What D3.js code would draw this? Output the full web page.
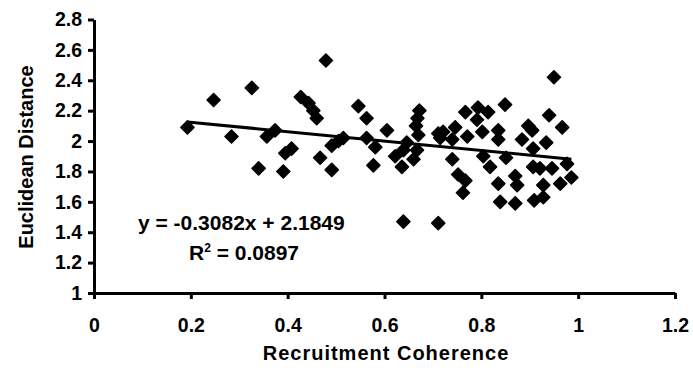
<!DOCTYPE html>
<html>
<head>
<meta charset="utf-8">
<script src="https://cdn.jsdelivr.net/npm/d3@7/dist/d3.min.js"></script>
<style>
  body { margin: 0; background: #fff; }
  text { font-family: "Liberation Sans", Arial, Helvetica, sans-serif; font-weight: bold; fill: #000; }
</style>
</head>
<body>
<svg id="chart" width="693" height="379"></svg>
<script>
// Recruitment coherence (x) against Euclidean distance (y), one entry per observation
const coherence = [
  0.193, 0.247, 0.284, 0.326, 0.340, 0.357, 0.374, 0.391, 0.395, 0.408,
  0.427, 0.443, 0.453, 0.460, 0.479, 0.467, 0.491, 0.491, 0.505, 0.515,
  0.546, 0.563, 0.563, 0.581, 0.577, 0.605, 0.622, 0.639, 0.646, 0.636,
  0.639, 0.660, 0.667, 0.672, 0.668, 0.665, 0.670, 0.711, 0.721, 0.715,
  0.711, 0.746, 0.740, 0.740, 0.767, 0.771, 0.793, 0.791, 0.814, 0.802,
  0.835, 0.849, 0.835, 0.804, 0.818, 0.752, 0.767, 0.762, 0.835, 0.839,
  0.950, 0.940, 0.897, 0.905, 0.967, 0.884, 0.934, 0.907, 0.851, 0.977,
  0.907, 0.921, 0.946, 0.870, 0.986, 0.963, 0.928, 0.874, 0.928, 0.909,
  0.870
];
const distance = [
  2.09, 2.27, 2.03, 2.35, 1.82, 2.03, 2.07, 1.80, 1.92, 1.95,
  2.29, 2.25, 2.20, 2.15, 2.53, 1.89, 1.81, 1.97, 2.00, 2.02,
  2.23, 2.15, 2.02, 1.96, 1.84, 2.07, 1.90, 1.94, 1.99, 1.83,
  1.47, 1.88, 1.94, 2.20, 2.15, 2.10, 2.04, 2.05, 2.06, 2.02,
  1.46, 2.09, 2.01, 1.88, 2.19, 2.03, 2.22, 2.14, 2.19, 2.06,
  2.07, 2.24, 2.01, 1.90, 1.83, 1.78, 1.74, 1.66, 1.72, 1.60,
  2.42, 2.17, 2.10, 2.07, 2.09, 2.01, 1.99, 1.95, 1.89, 1.85,
  1.83, 1.82, 1.82, 1.77, 1.76, 1.72, 1.71, 1.71, 1.63, 1.61,
  1.59
];

const xTicks = [0, 0.2, 0.4, 0.6, 0.8, 1, 1.2];
const yTicks = [1, 1.2, 1.4, 1.6, 1.8, 2, 2.2, 2.4, 2.6, 2.8];

// Linear trendline as reported on the chart
const slope = -0.3082;
const intercept = 2.1849;
const rSquared = 0.0897;

const xTitle = "Recruitment Coherence";
const yTitle = "Euclidean Distance";

const svg = d3.select("#chart");

const x = d3.scaleLinear().domain([0, 1.2]).range([94, 675]);
const y = d3.scaleLinear().domain([1, 2.8]).range([293, 19.5]);

const fmt = d => String(+d.toFixed(1));

// Axes
const xAxis = svg.append("g")
  .attr("transform", `translate(0,${y(1)})`)
  .call(d3.axisBottom(x).tickValues(xTicks).tickFormat(fmt).tickSize(6).tickSizeOuter(0).tickPadding(19));

const yAxis = svg.append("g")
  .attr("transform", `translate(${x(0)},0)`)
  .call(d3.axisLeft(y).tickValues(yTicks).tickFormat(fmt).tickSize(6).tickSizeOuter(0).tickPadding(6));

[xAxis, yAxis].forEach(g => {
  g.select(".domain").attr("stroke", "#000").attr("stroke-width", 3);
  g.selectAll(".tick line").attr("stroke", "#000").attr("stroke-width", 3);
  g.selectAll(".tick text").attr("font-size", 19.5).attr("fill", "#000")
    .style("font-family", '"Liberation Sans", Arial, sans-serif').style("font-weight", "bold");
});

// Scatter points as diamonds
const points = coherence.map((c, i) => ({ c, d: distance[i] }));
const half = 6.5;
svg.append("g").selectAll("path")
  .data(points)
  .join("path")
  .attr("transform", p => `translate(${x(p.c)},${y(p.d)})`)
  .attr("d", `M0,${-half}L${half},0L0,${half}L${-half},0Z`)
  .attr("fill", "#000")
  .attr("stroke", "#000")
  .attr("stroke-width", 1.6)
  .attr("stroke-linejoin", "round");

// Trendline over the range of the data
const [xMin, xMax] = d3.extent(coherence);
svg.append("line")
  .attr("x1", x(xMin)).attr("y1", y(intercept + slope * xMin))
  .attr("x2", x(xMax)).attr("y2", y(intercept + slope * xMax))
  .attr("stroke", "#000").attr("stroke-width", 3);

// Equation and R² labels
svg.append("text")
  .attr("x", 138).attr("y", 230)
  .attr("font-size", 21)
  .text(`y = ${slope}x + ${intercept}`);

const r2 = svg.append("text")
  .attr("x", 189).attr("y", 260)
  .attr("font-size", 21);
r2.append("tspan").text("R");
r2.append("tspan").attr("font-size", 12).attr("dy", -8).text("2");
r2.append("tspan").attr("dy", 8).text(` = ${rSquared}`);

// Axis titles
svg.append("text")
  .attr("x", 386).attr("y", 360)
  .attr("text-anchor", "middle")
  .attr("font-size", 20)
  .attr("letter-spacing", 1)
  .text(xTitle);

svg.append("text")
  .attr("transform", "translate(33,157) rotate(-90)")
  .attr("text-anchor", "middle")
  .attr("font-size", 20)
  .text(yTitle);
</script>
</body>
</html>
